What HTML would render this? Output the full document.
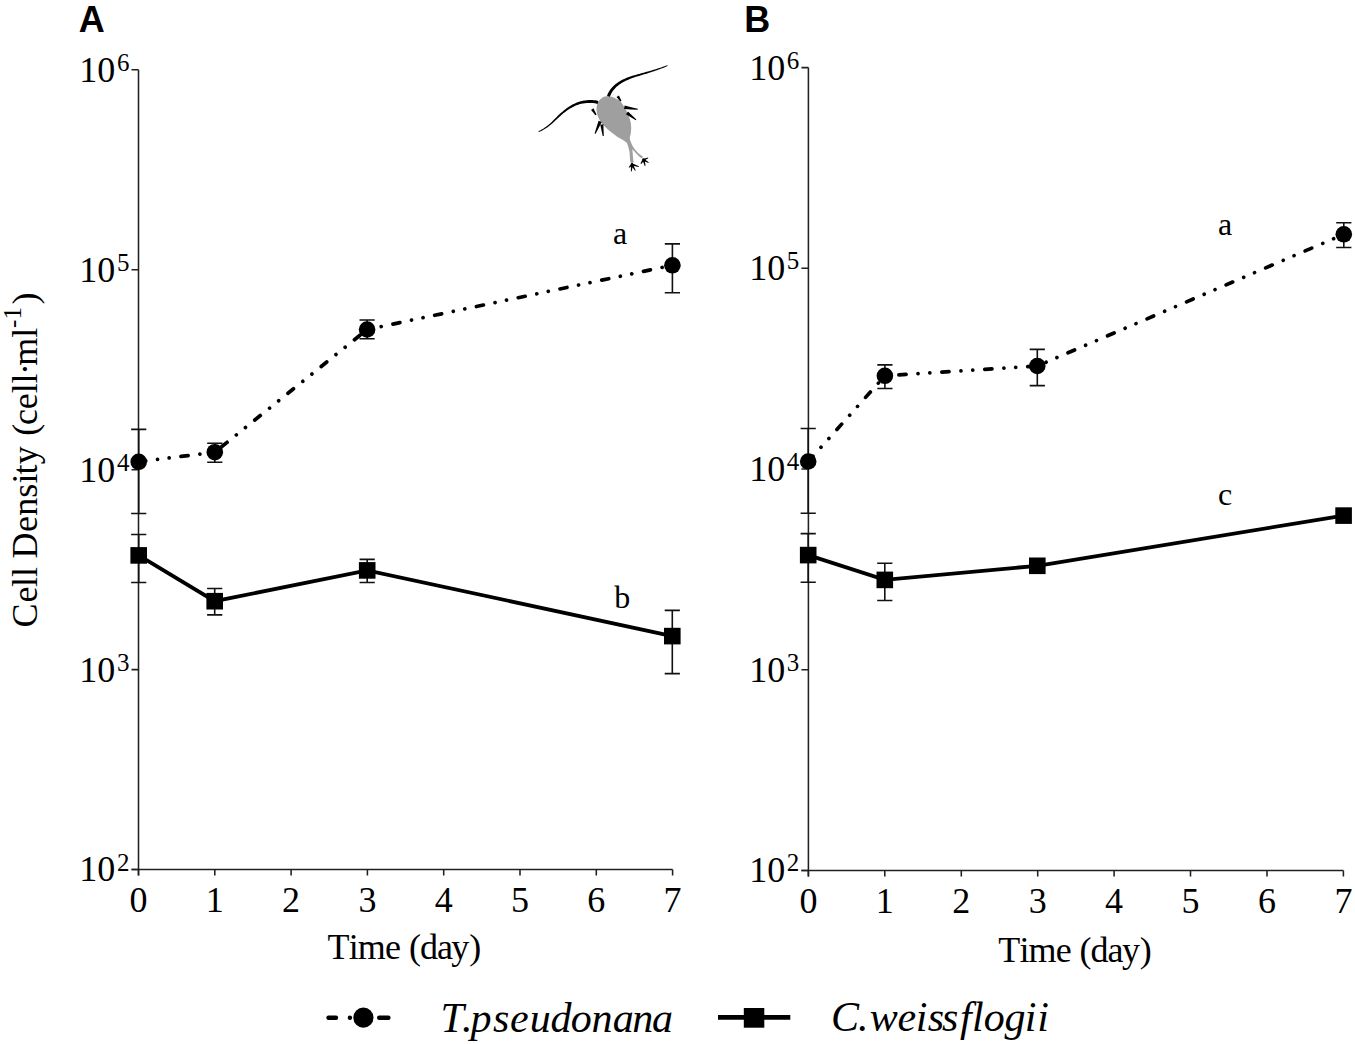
<!DOCTYPE html>
<html><head><meta charset="utf-8"><style>html,body{margin:0;padding:0;background:#fff;overflow:hidden}svg{display:block}</style></head>
<body>
<svg width="1355" height="1044" viewBox="0 0 1355 1044">
<style>text{font-family:"Liberation Serif",serif;fill:#000}.t{font-size:36px}.s{font-size:25px}.l{font-size:32px}.p{font-family:"Liberation Sans",sans-serif;font-weight:bold;font-size:36px}.i{font-style:italic;font-size:42px}</style>
<path d="M138.5 69.8V875.5M131.5 869.5H672.6" stroke="#202020" stroke-width="1.55" fill="none"/>
<path d="M131.5 69.8H138.5M131.5 269.7H138.5M131.5 469.7H138.5M131.5 669.6H138.5M131.5 869.5H138.5M138.5 869.5V875.5M214.8 869.5V875.5M291.1 869.5V875.5M367.4 869.5V875.5M443.7 869.5V875.5M520.0 869.5V875.5M596.3 869.5V875.5M672.6 869.5V875.5" stroke="#202020" stroke-width="1.55" fill="none"/>
<text x="79.3" y="81.7" class="t">10</text><text x="116.9" y="70.8" class="s">6</text>
<text x="79.3" y="281.6" class="t">10</text><text x="116.9" y="270.7" class="s">5</text>
<text x="79.3" y="481.6" class="t">10</text><text x="116.9" y="470.7" class="s">4</text>
<text x="79.3" y="681.5" class="t">10</text><text x="116.9" y="670.6" class="s">3</text>
<text x="79.3" y="881.4" class="t">10</text><text x="116.9" y="870.5" class="s">2</text>
<text x="138.5" y="911.7" class="t" text-anchor="middle">0</text>
<text x="214.8" y="911.7" class="t" text-anchor="middle">1</text>
<text x="291.1" y="911.7" class="t" text-anchor="middle">2</text>
<text x="367.4" y="911.7" class="t" text-anchor="middle">3</text>
<text x="443.7" y="911.7" class="t" text-anchor="middle">4</text>
<text x="520.0" y="911.7" class="t" text-anchor="middle">5</text>
<text x="596.3" y="911.7" class="t" text-anchor="middle">6</text>
<text x="672.6" y="911.7" class="t" text-anchor="middle">7</text>
<text x="78.7" y="31.6" class="p">A</text>
<path d="M138.7 429.4V513.5M131.1 429.4h15.2M131.1 513.5h15.2M214.8 443.2V462.2M207.2 443.2h15.2M207.2 462.2h15.2M367.1 320.0V338.8M359.5 320.0h15.2M359.5 338.8h15.2M672.4 243.9V292.8M664.8 243.9h15.2M664.8 292.8h15.2M138.7 534.5V582.5M131.1 534.5h15.2M131.1 582.5h15.2M214.7 588.5V614.9M207.1 588.5h15.2M207.1 614.9h15.2M367.2 559.4V582.5M359.6 559.4h15.2M359.6 582.5h15.2M672.3 610.4V673.6M664.7 610.4h15.2M664.7 673.6h15.2" stroke="#111" stroke-width="1.6" fill="none"/>
<polyline points="138.7,461.8 214.8,452.2 367.1,329.5 672.4,265.3" fill="none" stroke="#000" stroke-width="3.7" stroke-linecap="round" stroke-linejoin="round" stroke-dasharray="7.1 11.9 0.01 11.7 0.01 11.95"/>
<polyline points="138.7,555.4 214.7,601.2 367.2,570.4 672.3,636.1" fill="none" stroke="#000" stroke-width="3.8" stroke-linejoin="miter"/>
<circle cx="138.7" cy="461.8" r="8.3" fill="#000"/>
<circle cx="214.8" cy="452.2" r="8.3" fill="#000"/>
<circle cx="367.1" cy="329.5" r="8.3" fill="#000"/>
<circle cx="672.4" cy="265.3" r="8.3" fill="#000"/>
<rect x="130.4" y="547.1" width="16.6" height="16.6" fill="#000"/>
<rect x="206.4" y="592.9" width="16.6" height="16.6" fill="#000"/>
<rect x="358.9" y="562.1" width="16.6" height="16.6" fill="#000"/>
<rect x="664.0" y="627.8" width="16.6" height="16.6" fill="#000"/>
<text x="613.1" y="244.0" class="l">a</text>
<text x="614.3" y="608.3" class="l">b</text>
<path d="M808.4 67.6V876.4M801.4 870.4H1343.4099999999999" stroke="#202020" stroke-width="1.55" fill="none"/>
<path d="M801.4 67.6H808.4M801.4 268.3H808.4M801.4 469.0H808.4M801.4 669.7H808.4M801.4 870.4H808.4M808.4 870.4V876.4M884.8 870.4V876.4M961.3 870.4V876.4M1037.7 870.4V876.4M1114.1 870.4V876.4M1190.5 870.4V876.4M1267.0 870.4V876.4M1343.4 870.4V876.4" stroke="#202020" stroke-width="1.55" fill="none"/>
<text x="749.2" y="79.5" class="t">10</text><text x="786.8" y="68.6" class="s">6</text>
<text x="749.2" y="280.2" class="t">10</text><text x="786.8" y="269.3" class="s">5</text>
<text x="749.2" y="480.9" class="t">10</text><text x="786.8" y="470.0" class="s">4</text>
<text x="749.2" y="681.6" class="t">10</text><text x="786.8" y="670.7" class="s">3</text>
<text x="749.2" y="882.3" class="t">10</text><text x="786.8" y="871.4" class="s">2</text>
<text x="808.4" y="912.6" class="t" text-anchor="middle">0</text>
<text x="884.8" y="912.6" class="t" text-anchor="middle">1</text>
<text x="961.3" y="912.6" class="t" text-anchor="middle">2</text>
<text x="1037.7" y="912.6" class="t" text-anchor="middle">3</text>
<text x="1114.1" y="912.6" class="t" text-anchor="middle">4</text>
<text x="1190.5" y="912.6" class="t" text-anchor="middle">5</text>
<text x="1267.0" y="912.6" class="t" text-anchor="middle">6</text>
<text x="1343.4" y="912.6" class="t" text-anchor="middle">7</text>
<text x="744.2" y="31.6" class="p">B</text>
<path d="M808.2 428.5V513.3M800.6 428.5h15.2M800.6 513.3h15.2M884.9 364.9V388.5M877.3 364.9h15.2M877.3 388.5h15.2M1037.3 349.4V385.6M1029.7 349.4h15.2M1029.7 385.6h15.2M1343.8 222.7V247.5M1336.2 222.7h15.2M1336.2 247.5h15.2M808.2 533.6V582.2M800.6 533.6h15.2M800.6 582.2h15.2M884.8 563.2V600.5M877.2 563.2h15.2M877.2 600.5h15.2" stroke="#111" stroke-width="1.6" fill="none"/>
<polyline points="808.2,461.5 884.9,375.8 1037.3,366.0 1343.8,234.3" fill="none" stroke="#000" stroke-width="3.7" stroke-linecap="round" stroke-linejoin="round" stroke-dasharray="7.15 12.0 0.01 11.8 0.01 12.05"/>
<polyline points="808.2,555.1 884.8,579.9 1037.3,565.8 1343.6,515.6" fill="none" stroke="#000" stroke-width="3.8" stroke-linejoin="miter"/>
<circle cx="808.2" cy="461.5" r="8.3" fill="#000"/>
<circle cx="884.9" cy="375.8" r="8.3" fill="#000"/>
<circle cx="1037.3" cy="366.0" r="8.3" fill="#000"/>
<circle cx="1343.8" cy="234.3" r="8.3" fill="#000"/>
<rect x="799.9" y="546.8" width="16.6" height="16.6" fill="#000"/>
<rect x="876.5" y="571.6" width="16.6" height="16.6" fill="#000"/>
<rect x="1029.0" y="557.5" width="16.6" height="16.6" fill="#000"/>
<rect x="1335.3" y="507.3" width="16.6" height="16.6" fill="#000"/>
<text x="1218.0" y="235.2" class="l">a</text>
<text x="1218.0" y="504.5" class="l">c</text>
<text x="327.6 348.8 357.8 385.1 401.1 408.9 419.9 437.0 451.3 469.2" y="958.5" class="t">Time (day)</text>
<text x="998.2 1019.4 1028.4 1055.7 1071.7 1079.5 1090.5 1107.6 1121.9 1139.8" y="961.6" class="t">Time (day)</text>
<text transform="translate(37.4,626.3) rotate(-90)" class="t" x="-1.1 23.9 39.4 49.4 59.4 67.8 94.3 110.5 128.6 142.8 151.9 162.0 180.0 190.5 201.4 217.0 233.1 242.7 251.4 260.5 288.5" y="0">Cell Density (cell·ml</text>
<text transform="translate(21.3,327.9) rotate(-90)" class="s">-1</text>
<text transform="translate(37.4,304.6) rotate(-90)" class="t">)</text>
<path d="M328.5 1017.7H336M349.9 1017.7h0.01M379.2 1017.7H388.4" stroke="#000" stroke-width="4.4" stroke-linecap="round"/>
<circle cx="363.4" cy="1017.7" r="10.1" fill="#000"/>
<text x="440.6 461.9 470.6 492.9 510.0 529.7 550.6 570.7 591.5 612.7 632.2 652.0" y="1031.6" class="i">T.pseudonana</text>
<path d="M718 1017.4H790.3" stroke="#000" stroke-width="4.6"/>
<rect x="743.8" y="1008" width="20.5" height="19.7" fill="#000"/>
<text x="831.0 857.9 869.8 897.4 915.8 927.7 941.9 959.9 972.0 983.8 1004.5 1024.8 1037.3" y="1031.2" class="i">C.weissflogii</text>
<g transform="translate(530,55) scale(0.119718)"><path d="M569,394 C576.3,383.2 589.3,365.5 603,357 C616.7,348.5 635.2,343.5 651,343 C666.8,342.5 682.2,347.7 698,354 C713.8,360.3 732.3,369.7 746,381 C759.7,392.3 769.8,407.3 780,422 C790.2,436.7 799.0,453.2 807,469 C815.0,484.8 822.3,501.2 828,517 C833.7,532.8 838.2,548.2 841,564 C843.8,579.8 845.0,596.0 845,612 C845.0,628.0 842.8,645.3 841,660 C839.2,674.7 831.7,684.2 834,700 C836.3,715.8 847.0,739.0 855,755 C863.0,771.0 871.8,783.5 882,796 C892.2,808.5 906.3,821.5 916,830 C925.7,838.5 935.3,843.2 940,847 C944.7,850.8 945.7,850.7 944,853 C942.3,855.3 935.8,862.7 930,861 C924.2,859.3 917.0,850.5 909,843 C901.0,835.5 890.5,825.0 882,816 C873.5,807.0 862.5,794.7 858,789 C853.5,783.3 855.0,776.3 855,782 C855.0,787.7 857.0,809.3 858,823 C859.0,836.7 859.8,852.2 861,864 C862.2,875.8 866.5,887.7 865,894 C863.5,900.3 856.5,902.5 852,902 C847.5,901.5 841.0,899.7 838,891 C835.0,882.3 835.2,863.7 834,850 C832.8,836.3 833.2,822.7 831,809 C828.8,795.3 825.0,780.5 821,768 C817.0,755.5 815.0,744.2 807,734 C799.0,723.8 786.5,716.0 773,707 C759.5,698.0 743.0,691.3 726,680 C709.0,668.7 688.0,652.7 671,639 C654.0,625.3 637.5,611.5 624,598 C610.5,584.5 599.7,572.7 590,558 C580.3,543.3 571.7,526.0 566,510 C560.3,494.0 557.2,476.7 556,462 C554.8,447.3 556.8,433.3 559,422 C561.2,410.7 561.7,404.8 569,394Z" fill="#9f9f9f"/><path d="M667.1,349.6 669.6,342.8 672.3,336.3 675.1,329.9 678.2,323.6 681.6,317.3 685.3,311.1 689.2,305.0 693.4,299.0 697.9,293.1 702.7,287.2 707.9,281.3 713.4,275.5 719.2,269.8 725.4,264.1 731.9,258.4 738.8,252.8 746.1,247.3 753.8,241.8 761.8,236.3 770.2,231.0 779.7,225.6 789.6,220.4 799.9,215.4 810.5,210.5 821.4,205.9 832.6,201.4 844.0,197.0 855.6,192.7 867.4,188.6 879.4,184.6 891.5,180.6 903.7,176.7 916.0,172.9 928.4,169.1 940.7,165.3 953.1,161.5 965.4,157.8 977.7,153.9 989.9,150.1 1001.9,146.2 1010.8,143.3 1019.5,140.5 1028.1,137.7 1036.6,134.9 1044.8,132.1 1053.0,129.4 1061.0,126.6 1068.8,123.9 1076.4,121.2 1083.9,118.4 1091.3,115.7 1098.4,113.0 1105.4,110.3 1112.3,107.7 1118.9,105.0 1125.4,102.3 1131.7,99.6 1137.9,97.0 1143.8,94.3 1149.6,91.7 1146.4,84.3 1140.6,86.8 1134.6,89.2 1128.5,91.7 1122.1,94.1 1115.6,96.6 1109.0,99.0 1102.1,101.4 1095.1,103.9 1087.9,106.3 1080.6,108.8 1073.1,111.3 1065.4,113.7 1057.5,116.2 1049.5,118.7 1041.3,121.2 1033.0,123.7 1024.5,126.2 1015.9,128.7 1007.1,131.3 998.1,133.8 986.0,137.3 973.8,140.8 961.5,144.2 949.1,147.6 936.6,151.0 924.1,154.4 911.6,157.8 899.1,161.3 886.7,164.8 874.3,168.4 862.1,172.1 849.9,176.0 837.9,179.9 826.1,184.0 814.4,188.3 803.0,192.8 791.8,197.5 780.8,202.4 770.2,207.6 759.8,213.0 750.6,218.5 741.8,224.1 733.5,229.7 725.5,235.4 717.9,241.1 710.6,247.0 703.7,253.0 697.1,259.1 690.9,265.3 685.0,271.6 679.4,278.0 674.2,284.5 669.2,291.1 664.6,297.9 660.2,304.7 656.2,311.7 652.4,318.7 648.9,325.9 645.7,333.2 642.9,340.4ZM571.0,383.3 563.4,381.7 555.6,380.2 547.6,379.0 539.4,378.0 531.1,377.2 522.7,376.6 514.2,376.3 505.5,376.2 496.8,376.4 488.0,376.8 479.1,377.4 470.1,378.3 461.1,379.5 452.0,380.9 442.8,382.6 433.6,384.5 424.4,386.8 415.2,389.3 406.0,392.1 396.6,395.2 385.8,399.5 375.3,404.1 364.9,409.0 354.7,414.3 344.6,419.9 334.7,425.9 324.9,432.1 315.2,438.6 305.6,445.4 296.1,452.5 286.8,459.8 277.5,467.4 268.3,475.2 259.1,483.2 250.1,491.4 241.0,499.8 232.1,508.4 223.1,517.2 214.2,526.2 205.3,535.3 198.0,542.7 190.9,549.8 183.9,556.6 177.0,563.2 170.2,569.5 163.5,575.5 156.8,581.2 150.2,586.7 143.7,592.0 137.2,597.0 130.7,601.8 124.2,606.4 117.6,610.8 111.1,615.0 104.5,619.0 97.9,622.8 91.2,626.4 84.4,629.9 77.5,633.2 70.4,636.3 73.6,643.7 80.8,640.7 88.0,637.5 95.1,634.2 102.1,630.7 109.1,627.0 116.0,623.1 122.8,619.0 129.7,614.7 136.5,610.2 143.3,605.5 150.2,600.5 157.1,595.3 164.0,589.9 171.0,584.3 178.0,578.3 185.1,572.2 192.3,565.7 199.7,559.0 207.1,552.0 214.7,544.7 223.8,536.0 232.9,527.4 242.0,519.0 251.1,510.8 260.2,502.8 269.4,495.0 278.6,487.5 287.8,480.2 297.0,473.1 306.4,466.3 315.7,459.7 325.1,453.5 334.6,447.5 344.2,441.8 353.8,436.5 363.6,431.4 373.4,426.7 383.3,422.4 393.3,418.4 403.4,414.8 412.0,412.2 420.8,409.8 429.5,407.7 438.2,405.9 446.8,404.4 455.4,403.0 463.9,402.0 472.4,401.2 480.7,400.6 489.0,400.2 497.2,400.1 505.3,400.2 513.2,400.6 521.1,401.1 528.8,401.9 536.3,402.8 543.7,404.0 550.9,405.3 558.0,406.9 565.0,408.7ZM722.8,350.3 738.3,369.7 753.9,389.2 764.1,382.8 753.7,360.3 743.2,337.7ZM785.7,451.8 842.6,454.9 899.4,458.0 900.6,450.0 845.4,436.1 790.3,422.2ZM801.5,494.1 842.5,519.2 883.6,544.2 888.4,537.8 853.5,504.8 818.5,471.9ZM509.9,458.5 527.9,480.9 546.0,503.3 556.0,496.7 543.1,471.1 530.1,445.5ZM573.0,548.7 556.4,602.0 539.8,655.3 548.2,658.7 573.6,609.0 599.0,559.3ZM587.1,582.6 597.3,630.1 607.5,677.6 616.5,676.4 614.7,627.9 612.9,579.4ZM845.8,908.5 834.7,923.0 823.6,937.5 828.4,942.5 843.3,932.0 858.2,921.5ZM843.0,914.1 842.8,942.8 842.5,971.6 849.5,972.4 855.2,944.2 861.0,915.9ZM844.1,919.3 860.5,943.5 876.9,967.7 883.1,964.3 871.5,937.5 859.9,910.7ZM849.4,923.6 878.7,929.5 908.0,935.4 910.0,928.6 882.3,917.5 854.6,906.4ZM840,915a12,12 0 1,0 24,0a12,12 0 1,0 -24,0ZM940.5,870.0 931.8,888.0 923.1,906.1 928.9,909.9 942.2,895.0 955.5,880.0ZM939.3,877.4 949.0,902.2 958.6,926.9 965.4,925.1 961.0,898.8 956.7,872.6ZM943.7,882.9 966.0,892.0 988.3,901.1 991.7,894.9 972.0,881.0 952.3,867.1ZM951.2,883.4 969.7,873.3 988.3,863.3 985.7,856.7 965.3,861.7 944.8,866.6ZM936,875a12,12 0 1,0 24,0a12,12 0 1,0 -24,0Z" fill="#000"/></g>
</svg>
</body></html>
